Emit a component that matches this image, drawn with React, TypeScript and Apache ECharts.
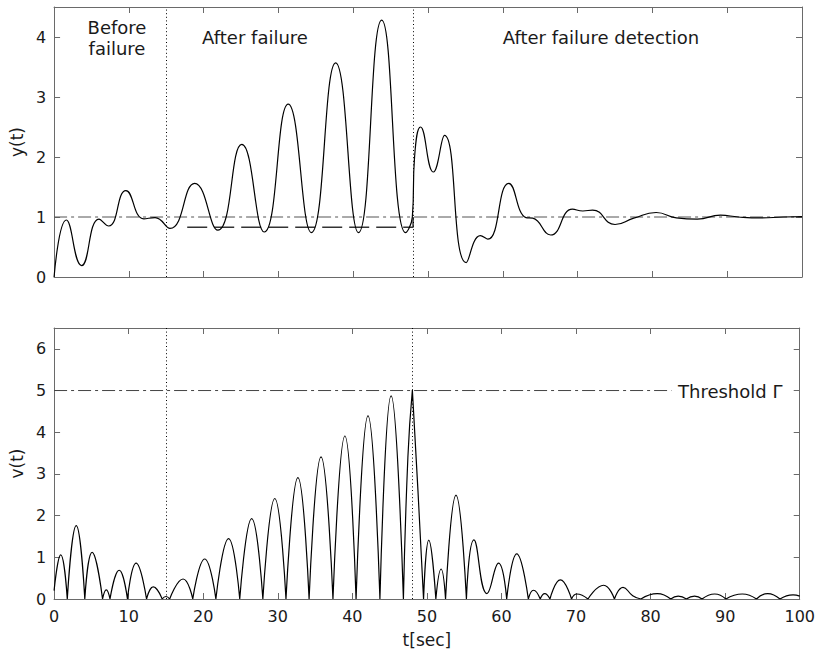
import React, { useEffect, useRef } from "react";
import * as echarts from "echarts";

// ---- data ----
const tTicks = [0, 10, 20, 30, 40, 50, 60, 70, 80, 90, 100];

// y(t): output response (extrema and a few shape points)
const yT = [0, 1.64, 3.68, 6.0, 7.3, 9.6, 12.0, 13.5, 15.5, 18.8, 21.9, 25.1, 28.1, 31.3, 34.4, 37.65, 40.7, 43.8, 47.0, 47.9, 48.2, 49.0, 50.7, 52.2, 55.1, 57.0, 58.0, 60.8, 63.1, 64.0, 66.4, 69.3, 70.7, 72.0, 75.0, 77.5, 80.5, 83.2, 86.0, 89.1, 91.5, 94.5, 97.5, 100];
const yV = [0, 0.95, 0.19, 0.965, 0.85, 1.44, 0.97, 0.99, 0.81, 1.56, 0.78, 2.21, 0.75, 2.88, 0.74, 3.57, 0.74, 4.28, 0.74, 1.0, 2.0, 2.5, 1.75, 2.36, 0.24, 0.69, 0.63, 1.56, 0.99, 0.98, 0.70, 1.13, 1.10, 1.115, 0.875, 0.98, 1.075, 0.985, 0.965, 1.03, 1.0, 0.985, 1.0, 1.005];

// reference level and faulty steady level
const refLevel = 1;
const faultT = [17.8, 48, 48];
const faultV = [0.83, 0.83, 1.0];

// event times
const failureTime = 15;
const detectionTime = 48;

// v(t): residual, arches separated by null breaks (cusps at zeros)
const vT = [
  0, 0.89, 1.77, 1.77,
  1.77, 2.97, 4.12, 4.12,
  4.12, 5.1, 6.5, 6.5,
  6.5, 7.0, 7.5, 7.5,
  7.5, 8.73, 9.84, 9.84,
  9.84, 11.0, 12.4, 12.4,
  12.4, 13.3, 14.5, 14.5,
  14.5, 15.0, 15.5, 15.5,
  15.5, 17.3, 18.6, 18.6,
  18.6, 20.2, 21.7, 21.7,
  21.7, 23.4, 24.9, 24.9,
  24.9, 26.5, 28.0, 28.0,
  28.0, 29.6, 31.1, 31.1,
  31.1, 32.7, 34.2, 34.2,
  34.2, 35.8, 37.4, 37.4,
  37.4, 39.0, 40.5, 40.5,
  40.5, 42.1, 43.7, 43.7,
  43.7, 45.2, 46.85, 46.85,
  46.85, 47.45, 48.05, 48.05,
  48.05, 48.8, 49.55, 49.55,
  49.55, 50.25, 51.2, 51.2,
  51.2, 51.9, 52.5, 52.5,
  52.5, 53.9, 55.3, 55.3,
  55.3, 56.3, 58.05, 59.6, 60.7, 60.7,
  60.7, 62.05, 63.6, 63.6,
  63.6, 64.3, 65.2, 65.2,
  65.2, 65.8, 66.5, 66.5,
  66.5, 67.9, 69.4, 69.4,
  69.4, 70.1, 71.6, 71.6,
  71.6, 73.7, 75.15, 75.15,
  75.15, 76.3, 77.6, 78.7, 78.7,
  78.7, 80.9, 82.7, 82.7,
  82.7, 83.7, 84.8, 84.8,
  84.8, 85.9, 86.9, 86.9,
  86.9, 88.6, 90.1, 90.1,
  90.1, 92.3, 94.2, 94.2,
  94.2, 95.7, 97.35, 97.35,
  97.35, 99.1, 100,
];
const vV: (number | null)[] = [
  0.2, 1.06, 0, null,
  0, 1.76, 0, null,
  0, 1.12, 0, null,
  0, 0.22, 0, null,
  0, 0.69, 0, null,
  0, 0.86, 0, null,
  0, 0.29, 0, null,
  0, 0.06, 0, null,
  0, 0.48, 0, null,
  0, 0.96, 0, null,
  0, 1.45, 0, null,
  0, 1.93, 0, null,
  0, 2.41, 0, null,
  0, 2.91, 0, null,
  0, 3.41, 0, null,
  0, 3.91, 0, null,
  0, 4.39, 0, null,
  0, 4.87, 0, null,
  0, 3.4, 5.01, null,
  5.01, 2.6, 0, null,
  0, 1.41, 0, null,
  0, 0.72, 0, null,
  0, 2.49, 0, null,
  0, 1.42, 0.13, 0.86, 0, null,
  0, 1.08, 0, null,
  0, 0.21, 0, null,
  0, 0.13, 0, null,
  0, 0.46, 0, null,
  0, 0.12, 0, null,
  0, 0.33, 0, null,
  0, 0.28, 0.08, 0, null,
  0, 0.13, 0, null,
  0, 0.07, 0, null,
  0, 0.07, 0, null,
  0, 0.12, 0, null,
  0, 0.12, 0, null,
  0, 0.13, 0, null,
  0, 0.1, 0.07,
];

const thresholdLevel = 5;
const thresholdEndT = 82.8;

// ---- styling ----
const FONT = "DejaVu Sans";
const TXT = "#1a1a1a";
const FRAME = "#6a6a6a";
const DASHDOT = [13, 4, 3, 4];
const DOTTED = [1, 2.6];

function xAx(gridIndex: number, position: "top" | "bottom", labels: boolean, name?: string) {
  return {
    type: "value",
    gridIndex,
    position,
    min: tTicks[0],
    max: tTicks[tTicks.length - 1],
    interval: 10,
    name: name || "",
    nameLocation: "middle",
    nameGap: 32,
    nameTextStyle: { fontFamily: FONT, fontSize: 17, color: TXT },
    axisLine: { show: true, onZero: false, lineStyle: { color: FRAME, width: 1 } },
    axisTick: { show: true, inside: true, length: 6, lineStyle: { color: FRAME, width: 1 } },
    axisLabel: { show: labels, fontFamily: FONT, fontSize: 16, color: TXT, margin: 9 },
    splitLine: { show: false },
  };
}

function yAx(gridIndex: number, position: "left" | "right", labels: boolean, max: number, name?: string) {
  return {
    type: "value",
    gridIndex,
    position,
    min: 0,
    max,
    interval: 1,
    name: name || "",
    nameLocation: "middle",
    nameGap: 15,
    nameTextStyle: { fontFamily: FONT, fontSize: 17, color: TXT },
    axisLine: { show: true, onZero: false, lineStyle: { color: FRAME, width: 1 } },
    axisTick: { show: true, inside: true, length: 6, lineStyle: { color: FRAME, width: 1 } },
    axisLabel: {
      show: labels,
      showMaxLabel: false,
      fontFamily: FONT,
      fontSize: 16,
      color: TXT,
      margin: 8,
      formatter: (v: number) => (Number.isInteger(v) ? String(v) : ""),
    },
    splitLine: { show: false },
  };
}

const eventLines = {
  silent: true,
  symbol: ["none", "none"],
  label: { show: false },
  lineStyle: { type: DOTTED, color: "#000", width: 1 },
  data: [{ xAxis: failureTime }, { xAxis: detectionTime }],
};

export default function App() {
  const ref = useRef<HTMLDivElement>(null);
  useEffect(() => {
    if (!ref.current) return;
    const chart = echarts.init(ref.current, null, { renderer: "svg" });
    const yData = yT.map((t, i) => [t, yV[i]]);
    const vData = vT.map((t, i) => [t, vV[i] === null ? "-" : vV[i]]);
    const faultData = faultT.map((t, i) => [t, faultV[i]]);
    chart.setOption({
      animation: false,
      backgroundColor: "#ffffff",
      grid: [
        { left: 50, right: 16, top: 7, height: 270 },
        { left: 50, right: 16, top: 328, height: 271 },
      ],
      xAxis: [
        xAx(0, "bottom", false),
        xAx(0, "top", false),
        xAx(1, "bottom", true, "t[sec]"),
        xAx(1, "top", false),
      ],
      yAxis: [
        yAx(0, "left", true, 4.5, "y(t)"),
        yAx(0, "right", false, 4.5),
        yAx(1, "left", true, 6.5, "v(t)"),
        yAx(1, "right", false, 6.5),
      ],
      series: [
        {
          type: "line",
          xAxisIndex: 0,
          yAxisIndex: 0,
          data: [[tTicks[0], refLevel], [tTicks[tTicks.length - 1], refLevel]],
          symbol: "none",
          silent: true,
          lineStyle: { type: DASHDOT, color: "#555", width: 1 },
          z: 1,
        },
        {
          type: "line",
          xAxisIndex: 0,
          yAxisIndex: 0,
          data: faultData,
          symbol: "none",
          silent: true,
          lineStyle: { type: [20, 7], color: "#333", width: 1.5 },
          z: 2,
        },
        {
          type: "line",
          xAxisIndex: 0,
          yAxisIndex: 0,
          data: yData,
          smooth: 0.5,
          symbol: "none",
          silent: true,
          lineStyle: { color: "#000", width: 1.2 },
          markLine: eventLines,
          z: 3,
        },
        {
          type: "line",
          xAxisIndex: 2,
          yAxisIndex: 2,
          data: [[tTicks[0], thresholdLevel], [thresholdEndT, thresholdLevel]],
          symbol: "none",
          silent: true,
          lineStyle: { type: DASHDOT, color: "#444", width: 1 },
          z: 1,
        },
        {
          type: "line",
          xAxisIndex: 2,
          yAxisIndex: 2,
          data: vData,
          smooth: 0.5,
          connectNulls: false,
          symbol: "none",
          silent: true,
          lineStyle: { color: "#000", width: 1.2 },
          markLine: eventLines,
          z: 3,
        },
      ],
      graphic: [
        {
          type: "text",
          x: 117,
          y: 38,
          style: {
            text: "Before\nfailure",
            fontFamily: FONT,
            fontSize: 18,
            lineHeight: 21,
            fill: TXT,
            align: "center",
            verticalAlign: "middle",
          },
        },
        {
          type: "text",
          x: 255,
          y: 37,
          style: { text: "After failure", fontFamily: FONT, fontSize: 18, fill: TXT, align: "center", verticalAlign: "middle" },
        },
        {
          type: "text",
          x: 601,
          y: 37,
          style: { text: "After failure detection", fontFamily: FONT, fontSize: 18, fill: TXT, align: "center", verticalAlign: "middle" },
        },
        {
          type: "text",
          x: 678,
          y: 391,
          style: { text: "Threshold Γ", fontFamily: FONT, fontSize: 18, fill: TXT, align: "left", verticalAlign: "middle" },
        },
      ],
    });
    return () => chart.dispose();
  }, []);
  return <div ref={ref} style={{ position: "absolute", left: 0, top: 0, width: 818, height: 652 }} />;
}
